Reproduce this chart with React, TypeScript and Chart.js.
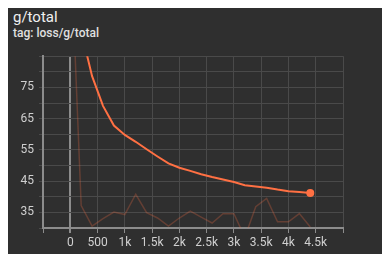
import React, { useEffect, useRef } from "react";
import { Chart, registerables } from "chart.js";

Chart.register(...registerables);

const steps = [0, 200, 400, 600, 800, 1000, 1200, 1400, 1600, 1800, 2000, 2200, 2400, 2600, 2800, 3000, 3200, 3400, 3600, 3800, 4000, 4200, 4400];
const rawLoss = [124, 37.2, 30.6, 33, 35.1, 34.3, 40.8, 34.9, 33.2, 30.6, 33.2, 35.4, 33.5, 31.6, 34.6, 34.6, 27, 36.8, 39.5, 32, 32, 34.6, 30.3];
const smoothedLoss = [124, 93, 78.6, 69.1, 62.8, 59.8, 57.6, 55.2, 52.9, 50.7, 49.3, 48.3, 47.2, 46.3, 45.5, 44.7, 43.7, 43.3, 42.9, 42.3, 41.8, 41.5, 41.2];
const yLabelValues = [35, 45, 55, 65, 75];

const ORANGE = "rgb(255,112,67)";
const GRID = "#4a4a4a";
const AXIS = "#8c8c8c";

export default function App() {
  const ref = useRef<HTMLCanvasElement>(null);
  useEffect(() => {
    if (!ref.current) return;
    const last = steps.length - 1;
    const chart = new Chart(ref.current, {
      type: "line",
      data: {
        datasets: [
          {
            label: "raw",
            data: steps.map((s, i) => ({ x: s, y: rawLoss[i] })),
            borderColor: "rgba(255,112,67,0.25)",
            borderWidth: 1.5,
            pointRadius: 0,
            tension: 0,
          },
          {
            label: "smoothed",
            data: steps.map((s, i) => ({ x: s, y: smoothedLoss[i] })),
            borderColor: ORANGE,
            backgroundColor: ORANGE,
            borderWidth: 2,
            pointRadius: (ctx: any) => (ctx.dataIndex === last ? 4 : 0),
            pointBorderWidth: 0,
            tension: 0,
          },
        ],
      },
      options: {
        animation: false,
        responsive: false,
        maintainAspectRatio: false,
        layout: { padding: { top: 7, right: 39, left: 0, bottom: 0 } },
        plugins: { legend: { display: false }, tooltip: { enabled: false } },
        scales: {
          x: {
            type: "linear",
            min: -500,
            max: 5000,
            afterFit: (s: any) => { s.height = 26; },
            ticks: {
              stepSize: 500,
              autoSkip: false,
              maxRotation: 0,
              padding: 3,
              color: "#d0d0d0",
              font: { family: "Roboto", size: 12 },
              callback: (v: any) => {
                const n = Number(v);
                if (n < 0 || n >= 5000) return "";
                if (n === 0) return "0";
                if (n < 1000) return String(n);
                return n / 1000 + "k";
              },
            },
            grid: {
              color: (ctx: any) => (ctx.tick && ctx.tick.value === 0 ? AXIS : GRID),
              lineWidth: (ctx: any) => (ctx.tick && ctx.tick.value === 0 ? 2 : 1),
              tickColor: AXIS,
              tickLength: 5,
            },
            border: { color: AXIS, width: 2 },
          },
          y: {
            min: 30,
            max: 85,
            afterFit: (s: any) => { s.width = 35; },
            ticks: {
              stepSize: 5,
              autoSkip: false,
              padding: 5,
              color: "#d0d0d0",
              font: { family: "Roboto", size: 12 },
              callback: (v: any) => (yLabelValues.includes(Number(v)) ? String(v) : ""),
            },
            grid: { color: GRID, tickColor: GRID, tickLength: 4 },
            border: { color: AXIS, width: 2 },
          },
        },
      },
    });
    return () => chart.destroy();
  }, []);

  return (
    <div
      style={{
        position: "relative",
        width: 374,
        height: 246,
        background: "#2f2f2f",
        fontFamily: "Roboto, sans-serif",
      }}
    >
      <div style={{ position: "absolute", left: 5, top: 1, fontSize: 15, lineHeight: "17px", color: "#f0f0f0" }}>
        g/total
      </div>
      <div style={{ position: "absolute", left: 5, top: 18, fontSize: 12, lineHeight: "14px", fontWeight: 500, color: "#e0e0e0" }}>
        tag: loss/g/total
      </div>
      <canvas
        ref={ref}
        width={374}
        height={210}
        style={{ position: "absolute", left: 0, top: 36, width: 374, height: 210 }}
      />
    </div>
  );
}
